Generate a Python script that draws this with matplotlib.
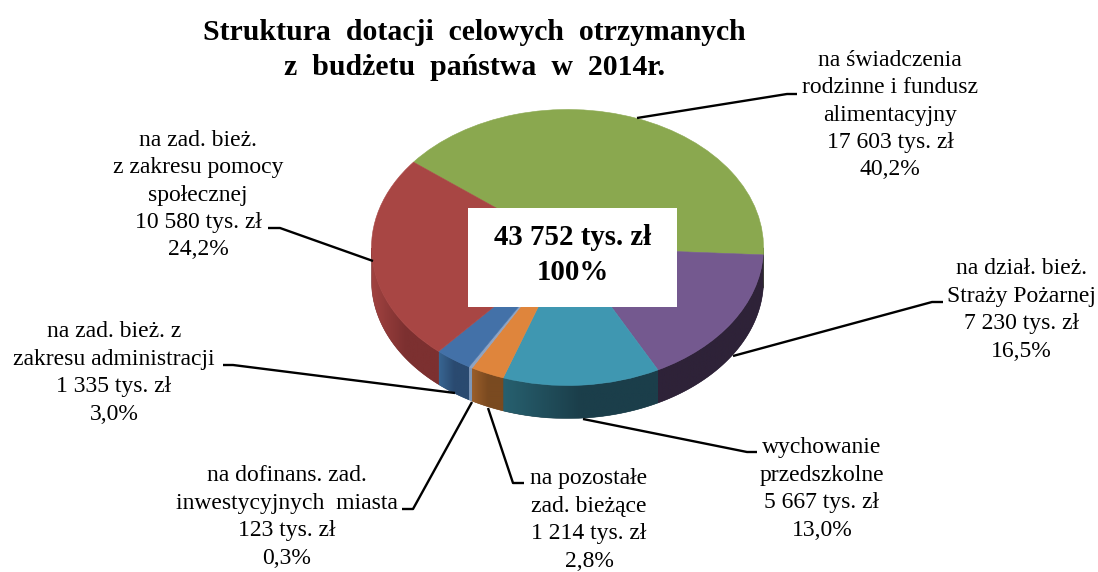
import numpy as np
import matplotlib
matplotlib.use('Agg')
import matplotlib.pyplot as plt
from matplotlib.colors import LinearSegmentedColormap
from matplotlib.patches import Polygon, Rectangle

plt.rcParams['font.family'] = ['Liberation Serif', 'DejaVu Serif']

# clockwise from the green slice
values = [17603, 7230, 5667, 1214, 123, 1335, 10580]
labels = [
    'na świadczenia\nrodzinne i fundusz\nalimentacyjny\n17 603 tys. zł\n40,2%',
    'na dział. bież.\nStraży Pożarnej\n7 230 tys. zł\n16,5%',
    'wychowanie\nprzedszkolne\n5 667 tys. zł\n13,0%',
    'na pozostałe\nzad. bieżące\n1 214 tys. zł\n2,8%',
    'na dofinans. zad.\ninwestycyjnych  miasta\n123 tys. zł\n0,3%',
    'na zad. bież. z\nzakresu administracji\n1 335 tys. zł\n3,0%',
    'na zad. bież.\nz zakresu pomocy\nspołecznej\n10 580 tys. zł\n24,2%',
]
title = 'Struktura  dotacji  celowych  otrzymanych\nz  budżetu  państwa  w  2014r.'
total_label = '43 752 tys. zł\n100%'

top_colors = ['#8aa84f', '#74598f', '#3f97b1', '#df853c', '#8da3c4', '#4371a8', '#a84644']
side_left = ['#55683a', '#2e2238', '#27606f', '#9a5e2a', '#7e97b8', '#386592', '#a04240']
side_right = ['#55683a', '#2e2238', '#1b3e4a', '#7a4a20', '#7e97b8', '#2a4a70', '#7c3030']

# label centres and leader paths, in pixels of the picture
label_pos = [(890, 115), (1021, 310), (822, 489), (589, 520), (287, 517), (114, 373), (198, 195)]
leaders = [
    [(637, 118), (787, 94), (797, 94)],
    [(733, 356), (932, 302), (943, 302)],
    [(583, 419), (747, 452), (757, 452)],
    [(488, 408), (513, 483), (524, 483)],
    [(472, 402), (413, 509), (402, 509)],
    [(455, 393), (233, 365), (223, 365)],
    [(373, 261), (280, 228), (268, 228)],
]

W, H = 1098, 572
cx, cy, rx, ry = 567.5, 247.5, 196, 138
depth = 33 / ry
start = 141.8

fig = plt.figure(figsize=(W / 100, H / 100), dpi=100)

ax = fig.add_axes([0, 0, 1, 1])
wedges, _ = ax.pie(values, colors=top_colors, startangle=start, counterclock=False,
                   radius=1, wedgeprops={'linewidth': 0.4})
for w, c in zip(wedges, top_colors):
    w.set_edgecolor(c)
    w.set_zorder(3)
xlim = (-cx / rx, (W - cx) / rx)
ylim = ((cy - H) / ry, cy / ry)

# side wall: one gradient per slice, clipped to the visible part of its arc
for w, c1, c2 in zip(wedges, side_left, side_right):
    t = np.radians(np.linspace(w.theta1, w.theta2, 300))
    t = t[np.sin(t) <= 0]
    if len(t) < 2:
        continue
    t = np.sort(t)
    xs, ys = np.cos(t), np.sin(t)
    pts = np.column_stack([np.r_[xs, xs[::-1]], np.r_[ys, ys[::-1] - depth]])
    poly = Polygon(pts, closed=True, transform=ax.transData, facecolor=c2, edgecolor=c2, lw=0.4, zorder=1)
    ax.add_patch(poly)
    cmap = LinearSegmentedColormap.from_list('side', [c1, c2, c2], N=128)
    im = ax.imshow(np.linspace(0, 1, 128).reshape(1, -1), cmap=cmap, aspect='auto', zorder=2,
                   extent=(pts[:, 0].min(), pts[:, 0].max(), pts[:, 1].min(), pts[:, 1].max()))
    im.set_clip_path(poly)
ax.set_aspect('auto')
ax.set_xlim(xlim)
ax.set_ylim(ylim)
ax.axis('off')

# overlay in picture pixels for texts and leaders
ov = fig.add_axes([0, 0, 1, 1])
ov.set_xlim(0, W)
ov.set_ylim(H, 0)
ov.axis('off')
ov.patch.set_alpha(0)

for path in leaders:
    ov.plot([p[0] for p in path], [p[1] for p in path], color='black', lw=1.7,
            solid_joinstyle='round', solid_capstyle='butt')

for txt, (x, y) in zip(labels, label_pos):
    ov.text(x, y, txt, ha='center', va='center', multialignment='center',
            fontsize=17, linespacing=1.40, color='black')

ov.add_patch(Rectangle((468, 208), 209, 99, facecolor='white', edgecolor='none', zorder=4))
ov.text(573, 255, total_label, ha='center', va='center', multialignment='center',
        fontsize=20.8, fontweight='bold', linespacing=1.38, zorder=5)

ov.text(474, 50, title, ha='center', va='center', multialignment='center',
        fontsize=21.4, fontweight='bold', linespacing=1.38)

fig.savefig('out.png', dpi=100)
